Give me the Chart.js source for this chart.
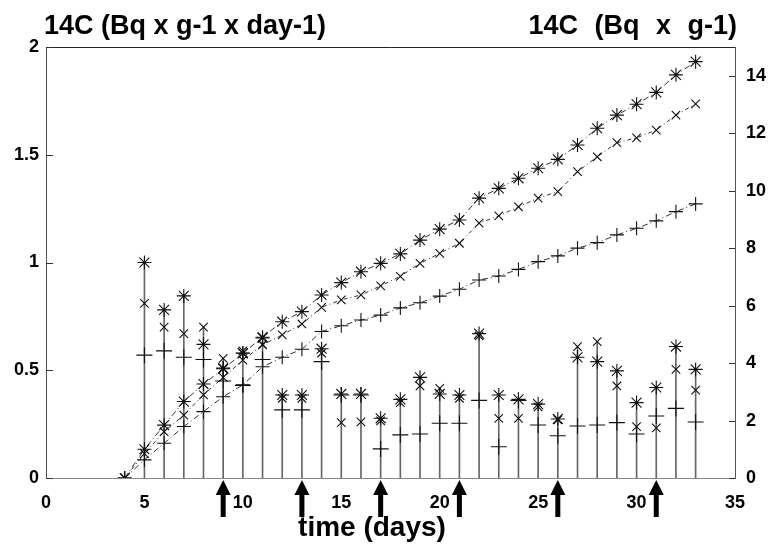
<!DOCTYPE html>
<html>
<head>
<meta charset="utf-8">
<script src="https://cdn.jsdelivr.net/npm/chart.js@4.4.1/dist/chart.umd.min.js"></script>
<style>
  body { margin: 0; background: #fff; }
  canvas { display: block; }
</style>
</head>
<body>
<canvas id="c" width="773" height="544"></canvas>
<script>
// daily values (left axis, Bq x g-1 x day-1), days 5..33
const days = [5, 6, 7, 8, 9, 10, 11, 12, 13, 14, 15, 16, 17, 18, 19, 20, 21, 22, 23, 24, 25, 26, 27, 28, 29, 30, 31, 32, 33];
const rateStar  = [1.0, 0.78, 0.845, 0.62, 0.51, 0.58, 0.65, 0.385, 0.385, 0.60, 0.39, 0.39, 0.277, 0.365, 0.467, 0.39, 0.385, 0.67, 0.385, 0.365, 0.343, 0.274, 0.56, 0.54, 0.497, 0.35, 0.42, 0.61, 0.504];
const rateCross = [0.81, 0.70, 0.67, 0.70, 0.555, 0.59, 0.62, 0.37, 0.37, 0.58, 0.257, 0.26, 0.265, 0.35, 0.427, 0.416, 0.37, 0.66, 0.277, 0.277, 0.33, 0.27, 0.61, 0.633, 0.427, 0.238, 0.233, 0.504, 0.408];
const ratePlus  = [0.57, 0.59, 0.56, 0.55, 0.45, 0.43, 0.55, 0.316, 0.316, 0.54, 0.385, 0.385, 0.135, 0.20, 0.204, 0.254, 0.254, 0.36, 0.145, 0.36, 0.246, 0.196, 0.241, 0.246, 0.257, 0.204, 0.288, 0.323, 0.26];
const stemTop   = [1.0, 0.78, 0.845, 0.70, 0.555, 0.59, 0.65, 0.385, 0.385, 0.60, 0.39, 0.39, 0.277, 0.365, 0.467, 0.416, 0.385, 0.67, 0.385, 0.365, 0.343, 0.274, 0.61, 0.633, 0.497, 0.35, 0.42, 0.61, 0.504];

// cumulated values (right axis, Bq x g-1), days 4..33
const cumDays = [4, 5, 6, 7, 8, 9, 10, 11, 12, 13, 14, 15, 16, 17, 18, 19, 20, 21, 22, 23, 24, 25, 26, 27, 28, 29, 30, 31, 32, 33];
const cumStar  = [0, 1.0, 1.84, 2.66, 3.27, 3.8, 4.34, 4.9, 5.44, 5.79, 6.37, 6.80, 7.18, 7.47, 7.80, 8.28, 8.66, 8.98, 9.74, 10.08, 10.43, 10.78, 11.09, 11.59, 12.17, 12.63, 13.01, 13.42, 14.03, 14.49];
const cumCross = [0, 0.85, 1.61, 2.19, 2.89, 3.5, 4.1, 4.63, 4.98, 5.36, 5.94, 6.2, 6.37, 6.69, 7.02, 7.47, 7.82, 8.17, 8.87, 9.12, 9.44, 9.74, 9.97, 10.66, 11.18, 11.67, 11.84, 12.11, 12.63, 13.02];
const cumPlus  = [0, 0.63, 1.21, 1.79, 2.31, 2.83, 3.24, 3.87, 4.2, 4.48, 5.1, 5.3, 5.5, 5.67, 5.92, 6.1, 6.33, 6.57, 6.89, 7.03, 7.26, 7.53, 7.73, 8.0, 8.19, 8.46, 8.69, 8.95, 9.27, 9.54];

// arrows under the time axis
const arrowDays = [9, 13, 17, 21, 26, 31];

const titleLeft = '14C (Bq x g-1 x day-1)';
const titleRight = '14C (Bq x g-1)';
const titleX = 'time (days)';

const FONT = '"Liberation Sans", Arial, sans-serif';
const INK = '#111';

function pts(xs, ys) { return xs.map((d, i) => ({ x: d, y: ys[i] })); }

function cumSet(vals, style, dash, r) {
  return {
    type: 'scatter', data: pts(cumDays, vals), yAxisID: 'y2', showLine: true,
    borderColor: '#333', borderWidth: 1, borderDash: dash,
    pointStyle: style, pointRadius: r, pointBorderColor: INK, pointBorderWidth: 1.1,
    pointBackgroundColor: INK, order: 2
  };
}
function rateSet(vals, style, r) {
  return {
    type: 'scatter', data: pts(days, vals), yAxisID: 'y', showLine: false,
    pointStyle: style, pointRadius: r, pointBorderColor: INK, pointBorderWidth: 1.1,
    pointBackgroundColor: INK, order: 1
  };
}

const decor = {
  id: 'decor',
  afterDraw(chart) {
    const c = chart.ctx, a = chart.chartArea;
    const sx = chart.scales.x, sy = chart.scales.y, sy2 = chart.scales.y2;
    c.save();
    c.strokeStyle = '#222';
    c.lineWidth = 1;
    c.beginPath();
    c.moveTo(a.left, a.top + 0.5);
    c.lineTo(a.right, a.top + 0.5);
    c.stroke();
    // inward ticks
    c.strokeStyle = '#333';
    sy.ticks.forEach(t => {
      const py = Math.round(sy.getPixelForValue(t.value)) + 0.5;
      c.beginPath(); c.moveTo(a.left, py); c.lineTo(a.left + 7, py); c.stroke();
    });
    sy2.ticks.forEach(t => {
      const py = Math.round(sy2.getPixelForValue(t.value)) + 0.5;
      c.beginPath(); c.moveTo(a.right, py); c.lineTo(a.right - 6, py); c.stroke();
    });
    // arrows
    c.fillStyle = '#000';
    arrowDays.forEach(d => {
      const px = sx.getPixelForValue(d);
      const tip = a.bottom + 2;
      c.beginPath();
      c.moveTo(px, tip);
      c.lineTo(px - 7.5, tip + 15);
      c.lineTo(px + 7.5, tip + 15);
      c.closePath();
      c.fill();
      c.fillRect(px - 2.5, tip + 14, 5, 23);
    });
    // titles
    c.fillStyle = '#000';
    c.textBaseline = 'alphabetic';
    c.font = 'bold 27px ' + FONT;
    c.textAlign = 'left';
    c.fillText(titleLeft, 44, 34);
    if ('wordSpacing' in c) c.wordSpacing = '9px';
    c.textAlign = 'right';
    c.fillText(titleRight, a.right + 2, 34);
    if ('wordSpacing' in c) c.wordSpacing = '0px';
    c.font = 'bold 28px ' + FONT;
    c.textAlign = 'center';
    c.fillText(titleX, 372, 536);
    c.restore();
  }
};

const ctx = document.getElementById('c');
const chart = new Chart(ctx, {
  type: 'scatter',
  data: {
    datasets: [
      {
        type: 'bar', data: days.map((d, i) => ({ x: d, y: [0, stemTop[i]] })), yAxisID: 'y',
        backgroundColor: '#666', barThickness: 1, grouped: false, order: 5
      },
      cumSet(cumStar, 'star', [6, 3, 1, 3], 7),
      cumSet(cumCross, 'crossRot', [4, 3, 1, 3], 6),
      cumSet(cumPlus, 'cross', [6, 3, 1, 3], 7),
      rateSet(rateStar, 'star', 7),
      rateSet(rateCross, 'crossRot', 6),
      rateSet(ratePlus, 'cross', 8)
    ]
  },
  options: {
    responsive: false,
    devicePixelRatio: 1,
    animation: false,
    layout: { padding: { top: 47, left: 0, right: 0, bottom: 0 } },
    plugins: { legend: { display: false }, tooltip: { enabled: false } },
    scales: {
      x: {
        type: 'linear', min: 0, max: 35, offset: false,
        ticks: { stepSize: 5, color: '#000', padding: 14, font: { family: FONT, size: 18, weight: 'bold' } },
        grid: { display: false, drawTicks: false },
        border: { display: true, color: '#888' },
        afterFit: s => { s.height = 66; }
      },
      y: {
        position: 'left', min: 0, max: 2,
        ticks: {
          stepSize: 0.5, color: '#000', padding: 7, font: { family: FONT, size: 18, weight: 'bold' },
          callback: v => String(v)
        },
        grid: { display: false, drawTicks: false },
        border: { display: true, color: '#555', dash: [4, 2] },
        afterFit: s => { s.width = 46; }
      },
      y2: {
        position: 'right', min: 0, max: 15,
        ticks: { stepSize: 2, color: '#000', padding: 11, font: { family: FONT, size: 18, weight: 'bold' } },
        afterBuildTicks: s => { s.ticks = s.ticks.filter(t => t.value <= 14); },
        grid: { display: false, drawTicks: false },
        border: { display: true, color: '#555' },
        afterFit: s => { s.width = 38; }
      }
    }
  },
  plugins: [decor]
});
</script>
</body>
</html>
